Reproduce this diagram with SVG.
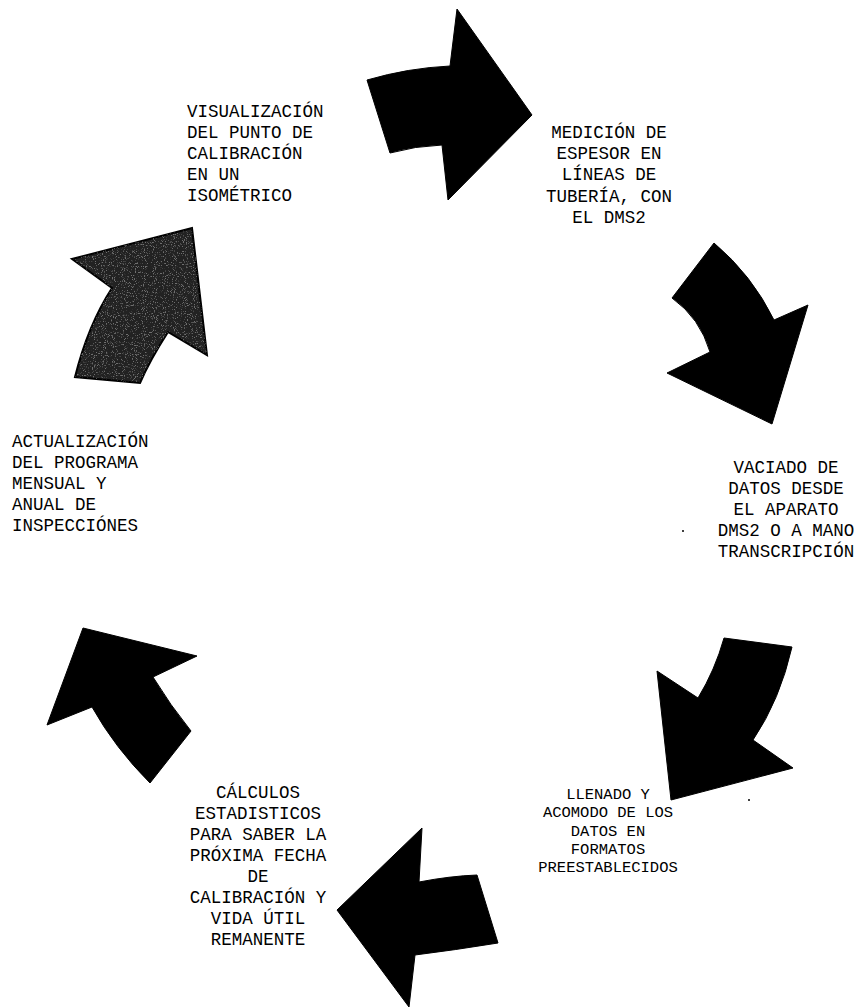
<svg xmlns="http://www.w3.org/2000/svg" width="857" height="1008" viewBox="0 0 857 1008">
<style>
.t{font-family:"Liberation Mono","Courier New",monospace;font-size:17.5px;fill:#000}
.s{font-size:15.5px}
.c{text-anchor:middle}
.a{fill:#000;stroke:#000;stroke-width:1;stroke-linejoin:miter}
.g{fill:#222;stroke:#000;stroke-width:2}
</style>
<defs>
<filter id="speck" x="0" y="0" width="1" height="1">
<feTurbulence type="fractalNoise" baseFrequency="0.9" numOctaves="2" seed="4" result="n"/>
<feColorMatrix in="n" type="matrix" values="0 0 0 0 1  0 0 0 0 1  0 0 0 0 1  0 0 0 7 -4" result="w"/>
<feComposite in="w" in2="SourceGraphic" operator="in"/>
</filter>
</defs>
<rect width="857" height="1008" fill="#fff"/>
<g id="connectors">
<path id="arrow1" class="a" d="M367,80 Q408,68 450,66 L457,9 L532,115 L448,200 L442,145 Q415,146 390,153 Z"/>
<path id="arrow2" class="a" d="M714,243 Q752,275 774,320 L808,305 L772,424 L667,373 L710,352 Q700,318 672,298 Z"/>
<path id="arrow3" class="a" d="M724,638 L792,647 Q780,700 753,740 L793,768 L671,800 L657,671 L698,698 Q715,670 724,638 Z"/>
<path id="arrow4" class="a" d="M422,828 L419,882 Q450,876 477,875 L498,943 Q455,950 415,955 L409,1007 L337,910 Z"/>
<path id="arrow5" class="a" d="M83,628 L197,656 L153,677 Q170,705 191,731 L150,783 Q115,748 92,707 L47,725 Z"/>
<g id="arrow6">
<path class="g" d="M192,228 L207,355 L168,332 Q150,360 140,383 L75,377 Q88,325 112,288 L72,259 Z"/>
<path d="M192,228 L207,355 L168,332 Q150,360 140,383 L75,377 Q88,325 112,288 L72,259 Z" fill="#000" filter="url(#speck)" opacity="0.35"/>
</g>
</g>
<g id="node1">
<text class="t" x="187" y="117">VISUALIZACIÓN</text>
<text class="t" x="187" y="138">DEL PUNTO DE</text>
<text class="t" x="187" y="159">CALIBRACIÓN</text>
<text class="t" x="187" y="180">EN UN</text>
<text class="t" x="187" y="201">ISOMÉTRICO</text>
</g>
<g id="node2">
<text class="t c" x="609" y="138">MEDICIÓN DE</text>
<text class="t c" x="609" y="159">ESPESOR EN</text>
<text class="t c" x="609" y="180">LÍNEAS DE</text>
<text class="t c" x="609" y="202">TUBERÍA, CON</text>
<text class="t c" x="609" y="223">EL DMS2</text>
</g>
<g id="node3">
<text class="t c" x="786" y="473">VACIADO DE</text>
<text class="t c" x="786" y="494">DATOS DESDE</text>
<text class="t c" x="786" y="515">EL APARATO</text>
<text class="t c" x="786" y="536">DMS2 O A MANO</text>
<text class="t c" x="786" y="557">TRANSCRIPCIÓN</text>
</g>
<g id="node4">
<text class="t s c" x="608" y="799">LLENADO Y</text>
<text class="t s c" x="608" y="817">ACOMODO DE LOS</text>
<text class="t s c" x="608" y="836">DATOS EN</text>
<text class="t s c" x="608" y="854">FORMATOS</text>
<text class="t s c" x="608" y="872">PREESTABLECIDOS</text>
</g>
<g id="node5">
<text class="t c" x="258" y="798">CÁLCULOS</text>
<text class="t c" x="258" y="819">ESTADISTICOS</text>
<text class="t c" x="258" y="840">PARA SABER LA</text>
<text class="t c" x="258" y="861">PRÓXIMA FECHA</text>
<text class="t c" x="258" y="882">DE</text>
<text class="t c" x="258" y="903">CALIBRACIÓN Y</text>
<text class="t c" x="258" y="924">VIDA ÚTIL</text>
<text class="t c" x="258" y="945">REMANENTE</text>
</g>
<g id="node6">
<text class="t" x="12" y="447">ACTUALIZACIÓN</text>
<text class="t" x="12" y="468">DEL PROGRAMA</text>
<text class="t" x="12" y="489">MENSUAL Y</text>
<text class="t" x="12" y="510">ANUAL DE</text>
<text class="t" x="12" y="531">INSPECCIÓNES</text>
</g>
<g id="specks" fill="#000">
<circle cx="683" cy="531" r="1"/>
<circle cx="749" cy="800" r="1"/>
</g>
</svg>
